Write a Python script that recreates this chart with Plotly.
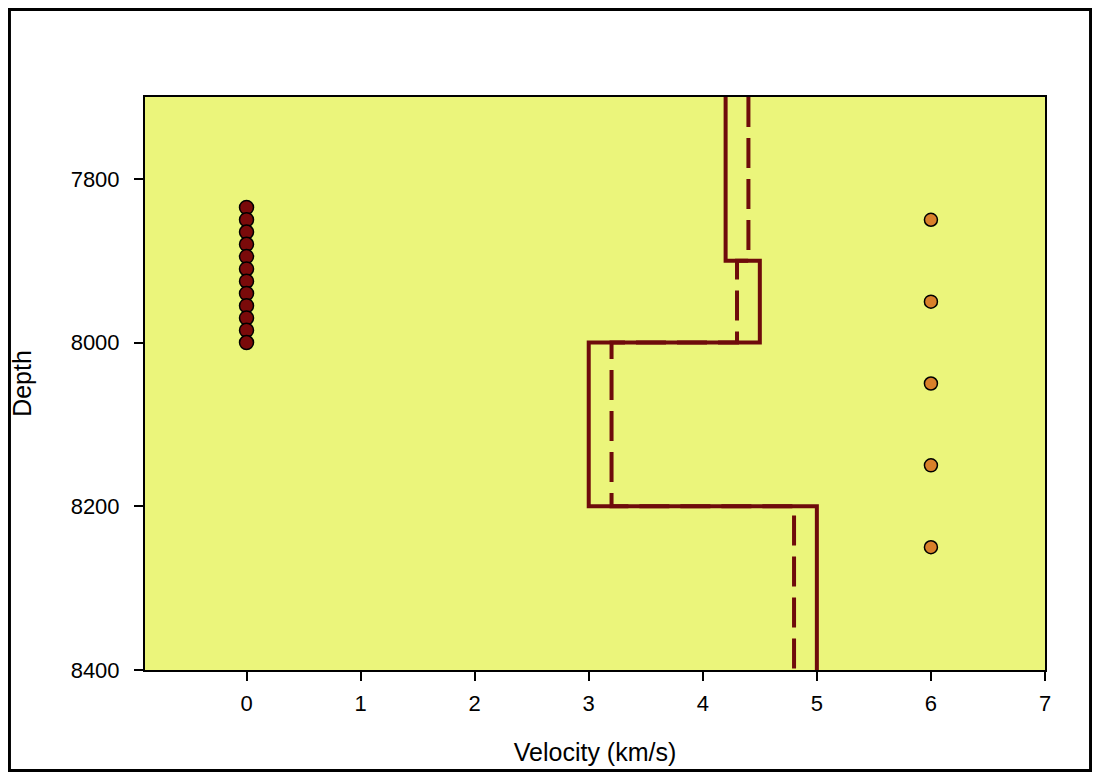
import plotly.graph_objects as go

# layer boundaries (depth) and interval velocities for the two step models
layer_depth = [7700, 7900, 8000, 8200, 8400]
velocity_solid = [4.2, 4.5, 3.0, 5.0]
velocity_dashed = [4.4, 4.3, 3.2, 4.8]

# receivers along the well (x = 0) and sources offset (x = 6)
receiver_depth = [7835, 7850, 7865, 7880, 7895, 7910, 7925, 7940, 7955, 7970, 7985, 8000]
receiver_velocity = [0, 0, 0, 0, 0, 0, 0, 0, 0, 0, 0, 0]
source_depth = [7850, 7950, 8050, 8150, 8250]
source_velocity = [6, 6, 6, 6, 6]

x_ticks = [0, 1, 2, 3, 4, 5, 6, 7]
y_ticks = [7800, 8000, 8200, 8400]

LINE_COLOR = '#6E0B0B'
FONT = 'Liberation Sans, Arial, sans-serif'


def step_xy(velocities, depths):
    """Vertical-then-horizontal step: last velocity repeated at the bottom."""
    return velocities + [velocities[-1]], depths


fig = go.Figure()

xs, ys = step_xy(velocity_solid, layer_depth)
fig.add_trace(go.Scatter(
    x=xs, y=ys, mode='lines', line_shape='vh',
    line=dict(color=LINE_COLOR, width=4),
))

xs, ys = step_xy(velocity_dashed, layer_depth)
fig.add_trace(go.Scatter(
    x=xs, y=ys, mode='lines', line_shape='vh',
    line=dict(color=LINE_COLOR, width=4, dash='30px,11px'),
))

fig.add_trace(go.Scatter(
    x=receiver_velocity, y=receiver_depth, mode='markers',
    marker=dict(size=14, color='#7A0A0A', line=dict(color='black', width=1.5)),
))

fig.add_trace(go.Scatter(
    x=source_velocity, y=source_depth, mode='markers',
    marker=dict(size=13, color='#D9802A', line=dict(color='black', width=1.5)),
))

axis_common = dict(
    showline=True, linecolor='black', linewidth=2, mirror=True,
    showgrid=False, zeroline=False,
    ticks='outside', ticklen=9, tickwidth=2, tickcolor='black',
    tickfont=dict(family=FONT, size=22, color='black'),
    automargin=False,
)

fig.update_xaxes(
    range=[-0.89, 7], tickvals=x_ticks, ticklabelstandoff=4,
    title=dict(text='Velocity (km/s)', font=dict(family=FONT, size=25, color='black'), standoff=28),
    **axis_common,
)
fig.update_yaxes(
    range=[8400, 7700], tickvals=y_ticks, ticklabelstandoff=10,
    title=dict(text='Depth', font=dict(family=FONT, size=25, color='black'), standoff=33),
    **axis_common,
)

# outer frame round the whole picture
fig.add_shape(
    type='rect', xref='paper', yref='paper',
    x0=-0.1506, x1=1.0506, y0=-0.1754, y1=1.1527,
    line=dict(color='black', width=3), fillcolor='rgba(0,0,0,0)', layer='above',
)

# page body has an 8px margin, so the figure is 16px smaller than the window
fig.update_layout(
    width=1084, height=764,
    margin=dict(l=137, r=47, t=89, b=102),
    paper_bgcolor='white',
    plot_bgcolor='#EBF57B',
    showlegend=False,
    font=dict(family=FONT, color='black'),
)

fig.write_html("out.html")
